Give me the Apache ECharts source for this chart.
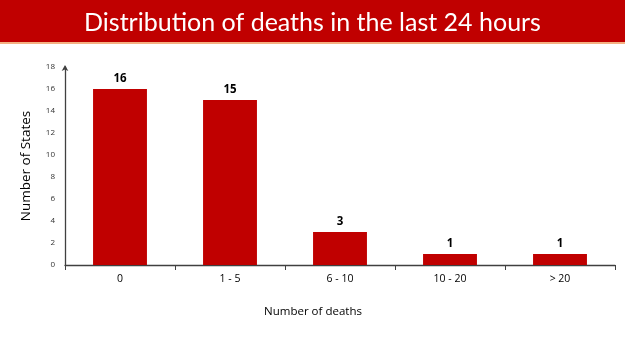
<!DOCTYPE html>
<html><head><meta charset="utf-8">
<script src="https://cdn.jsdelivr.net/npm/echarts@6/dist/echarts.min.js"></script>
<style>html,body{margin:0;padding:0;background:#fff}#c{width:625px;height:351px}</style>
</head><body><div id="c"></div>
<script>
const categories = ['0', '1 - 5', '6 - 10', '10 - 20', '> 20'];
const states = [16, 15, 3, 1, 1];
const yTicks = [0, 2, 4, 6, 8, 10, 12, 14, 16, 18];

const chart = echarts.init(document.getElementById('c'));
chart.setOption({
  animation: false,
  title: {
    text: 'Distribution of deaths in the last 24 hours',
    left: 'center', top: 5,
    textStyle: { color: '#fff', fontFamily: 'Lato', fontWeight: 'normal', fontSize: 25 }
  },
  graphic: [
    { type: 'rect', z: -1, shape: { x: 0, y: 0, width: 625, height: 42 }, style: { fill: '#C00000' } },
    { type: 'rect', z: -1, shape: { x: 0, y: 42, width: 625, height: 2 }, style: { fill: '#F4B183' } }
  ],
  grid: { left: 65, right: 10, top: 67, bottom: 86 },
  xAxis: {
    type: 'category', data: categories,
    name: 'Number of deaths', nameLocation: 'middle', nameGap: 41,
    nameTextStyle: { fontFamily: 'Open Sans', fontSize: 11.5, color: '#000', padding: [0, 54, 0, 0] },
    axisLine: { lineStyle: { color: '#404040', width: 1.3 } },
    axisTick: { show: true, length: 5, lineStyle: { color: '#404040' } },
    axisLabel: { fontFamily: 'Open Sans', fontSize: 10.5, color: '#000', margin: 9 }
  },
  yAxis: {
    type: 'value', min: 0, max: 18, interval: 2,
    name: 'Number of States', nameLocation: 'middle', nameGap: 32,
    nameTextStyle: { fontFamily: 'Open Sans', fontSize: 13.5, color: '#000' },
    splitLine: { show: false },
    axisLine: { show: true, symbol: ['none', 'arrow'], symbolSize: [5, 6], symbolOffset: [0, 2], lineStyle: { color: '#404040', width: 1.3 } },
    axisTick: { show: false },
    axisLabel: { fontFamily: 'Open Sans', fontSize: 8, color: '#333', margin: 10,
      formatter: v => yTicks.includes(v) ? String(v) : '' }
  },
  series: [{
    type: 'bar', data: states, barWidth: '49%',
    itemStyle: { color: '#C00000' },
    label: { show: true, position: 'top', color: '#000', fontWeight: 'bold', fontSize: 11.5, fontFamily: 'Open Sans', distance: 4 }
  }]
});
</script></body></html>
